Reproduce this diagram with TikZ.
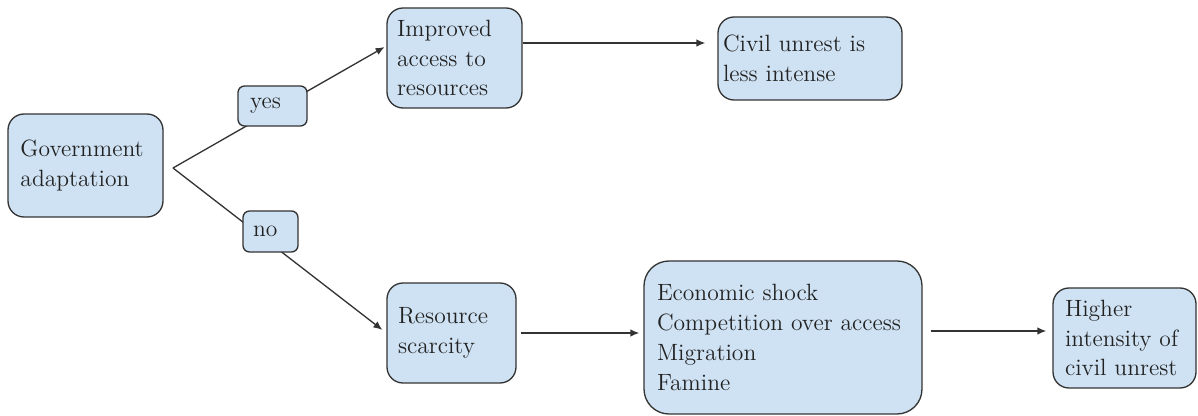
\documentclass[tikz,border=0pt]{standalone}
\usepackage{tikz}
\usetikzlibrary{arrows.meta,positioning,calc}
\definecolor{boxfill}{RGB}{207,226,243}
\definecolor{boxline}{RGB}{51,51,51}
\definecolor{ink}{RGB}{34,34,34}
\tikzset{
  box/.style={draw=boxline, line width=0.75pt, rounded corners=0.32cm, fill=boxfill,
    align=left, inner sep=0pt, text=ink, font=\fontsize{13.4}{17}\selectfont},
  choice/.style={box, rounded corners=0.13cm},
  link/.style={draw=boxline, line width=0.75pt},
  flow/.style={link, -{Latex[length=1.8mm,width=1.5mm]}}
}

\begin{document}
\begin{tikzpicture}
  \useasboundingbox (0,0) rectangle (23.96,8.32);

  \node[box, minimum width=3.10cm, minimum height=2.06cm, text width=2.6cm]  (gov) at (1.71,5.01) {Government\\adaptation};
  \node[box, minimum width=2.70cm, minimum height=2.00cm, text width=2.3cm]  (imp) at (9.09,7.16) {Improved\\access to\\resources};
  \node[box, minimum width=3.68cm, minimum height=1.66cm, text width=3.48cm] (civ) at (16.20,7.15) {Civil unrest is\\less intense};
  \node[box, minimum width=2.58cm, minimum height=2.00cm, text width=2.14cm] (res) at (9.03,1.66) {Resource\\scarcity};
  \node[box, rounded corners=0.5cm, minimum width=5.56cm, minimum height=3.06cm, text width=5.04cm] (eco) at (15.66,1.57)
    {Economic shock\\Competition over access\\Migration\\Famine};
  \node[box, minimum width=2.86cm, minimum height=2.00cm, text width=2.38cm] (hi)  at (22.49,1.56) {Higher\\intensity of\\civil unrest};

  % branch point right of the first box
  \coordinate (fork) at (3.46,4.96);
  \draw[flow, shorten >=0.04cm] (fork) -- ([yshift=0.24cm]imp.west);
  \draw[flow, shorten >=0.1cm] (fork) -- (res.west);

  \node[choice, minimum width=1.38cm, minimum height=0.80cm, text width=0.9cm] (yes) at (5.45,6.20) {yes};
  \node[choice, minimum width=1.10cm, minimum height=0.82cm, text width=0.7cm] (no)  at (5.41,3.69) {no};

  \draw[flow, shorten >=0.24cm] ([yshift=0.3cm]imp.east) -- ([yshift=0.3cm]imp.east -| civ.west);
  \draw[flow, shorten <=0.08cm, shorten >=0.08cm] (res.east) -- (res.east -| eco.west);
  \draw[flow, shorten <=0.16cm, shorten >=0.12cm] ([yshift=0.14cm]hi.west -| eco.east) -- ([yshift=0.14cm]hi.west);
\end{tikzpicture}
\end{document}
